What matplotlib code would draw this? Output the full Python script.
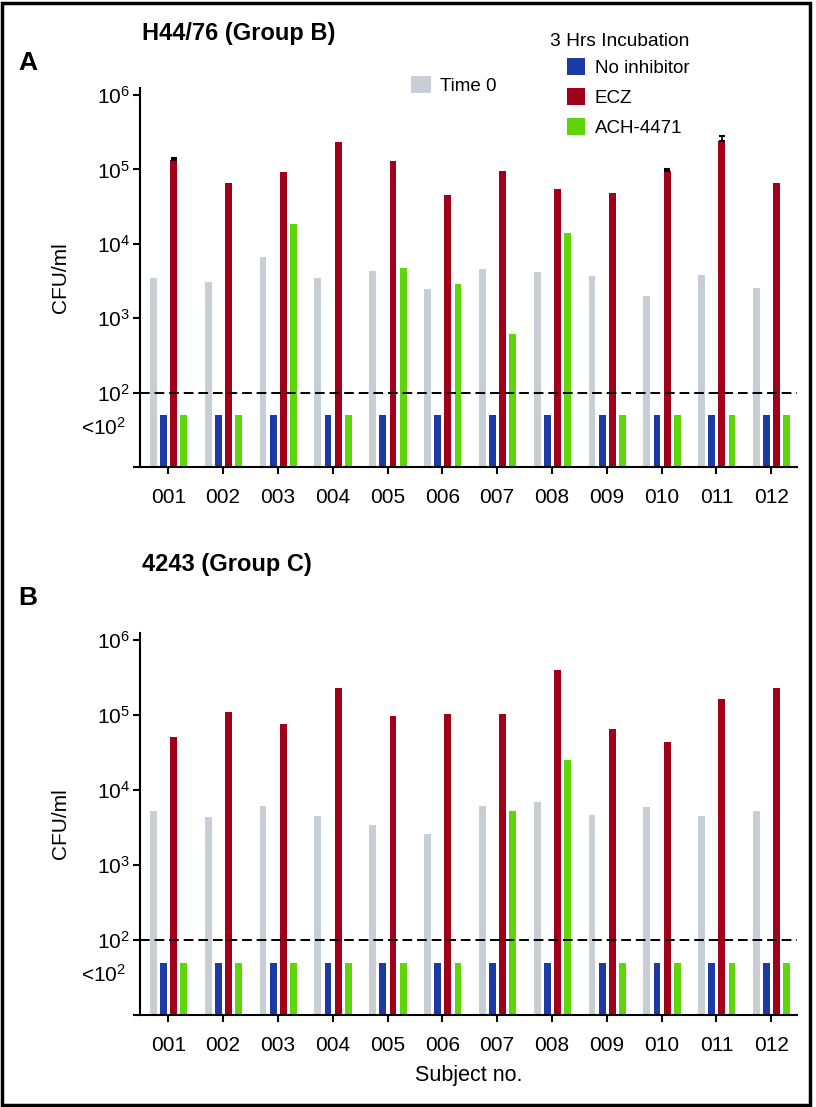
"""Bar charts of CFU/ml per subject for two strains, log scale"""
import matplotlib
matplotlib.use("Agg")
from matplotlib import pyplot as plt
from matplotlib.patches import Patch, Rectangle
from matplotlib.transforms import blended_transform_factory

plt.rcParams['font.family'] = ['Liberation Sans', 'DejaVu Sans']
plt.rcParams['mathtext.fontset'] = 'custom'
plt.rcParams['mathtext.rm'] = 'Liberation Sans'
plt.rcParams['mathtext.it'] = 'Liberation Sans'
plt.rcParams['mathtext.bf'] = 'Liberation Sans:bold'

subjects = ["001", "002", "003", "004", "005", "006",
            "007", "008", "009", "010", "011", "012"]
series_names = ["Time 0", "No inhibitor", "ECZ", "ACH-4471"]
colors = ["#c8ced6", "#1b3aa6", "#a0001a", "#5ed60a"]

# panel A: H44/76 (Group B)
time0_a = [3450, 3100, 6700, 3450, 4300, 2500, 4550, 4150, 3700, 1980, 3800, 2570]
noinh_a = [50, 50, 50, 50, 50, 50, 50, 50, 50, 50, 50, 50]
ecz_a = [135000, 65000, 92000, 233000, 128000, 45500, 96000, 54000, 48000, 96000, 240000, 65000]
ach_a = [50, 50, 18400, 50, 4700, 2850, 620, 14000, 50, 50, 50, 50]
ecz_a_err = [7000, 0, 0, 0, 0, 0, 0, 0, 0, 5000, 38000, 0]

# panel B: 4243 (Group C)
time0_b = [5250, 4370, 6050, 4540, 3420, 2620, 6120, 6850, 4590, 6000, 4460, 5300]
noinh_b = [50, 50, 50, 50, 50, 50, 50, 50, 50, 50, 50, 50]
ecz_b = [51000, 110000, 77000, 231000, 97000, 103000, 103000, 400000, 65000, 43000, 163000, 231000]
ach_b = [50, 50, 50, 50, 50, 50, 5250, 25000, 50, 50, 50, 50]
ecz_b_err = [0, 0, 0, 0, 0, 0, 0, 0, 0, 0, 0, 0]

ytick_vals = [10, 1e2, 1e3, 1e4, 1e5, 1e6]
ytick_labels = ["", "$10^{2}$", "$10^{3}$", "$10^{4}$", "$10^{5}$", "$10^{6}$"]
detect_limit = 100
below_label = "<$10^{2}$"
below_pos = 34
y_floor = 10

offsets = [-0.27, -0.085, 0.10, 0.285]
bar_w = 0.125


def draw_panel(ax, title, letter, data, err, show_xlabel):
    """Draw one panel of grouped bars"""
    xs = list(range(len(subjects)))
    for k, vals in enumerate(data):
        ax.bar([x + offsets[k] for x in xs], [v - y_floor for v in vals],
               width=bar_w, bottom=y_floor,
               color=colors[k], edgecolor='none', zorder=2)
    ex = [xs[i] + offsets[2] for i in range(len(err)) if err[i] > 0]
    ey = [data[2][i] for i in range(len(err)) if err[i] > 0]
    ee = [[0] * len(ex), [e for e in err if e > 0]]
    if ex:
        ax.errorbar(ex, ey, yerr=ee, fmt='none', ecolor='black',
                    elinewidth=1.2, capsize=2.5, capthick=1.5, zorder=3)
    ax.axhline(detect_limit, color='black', linestyle=(0, (5, 2.5)),
               linewidth=1.4, zorder=4)
    ax.set_yscale('log')
    ax.set_ylim(y_floor, 10 ** 6.1)
    ax.set_xlim(-0.515, 11.47)
    ax.set_yticks(ytick_vals)
    ax.set_yticklabels(ytick_labels)
    ax.minorticks_off()
    ax.set_xticks(xs)
    ax.set_xticklabels(subjects)
    for side in ['top', 'right']:
        ax.spines[side].set_visible(False)
    for side in ['left', 'bottom']:
        ax.spines[side].set_linewidth(1.5)
    ax.tick_params(axis='both', length=5, width=1.5, labelsize=15)
    ax.tick_params(axis='y', pad=2)
    ax.tick_params(axis='x', pad=10)
    trans = blended_transform_factory(ax.transAxes, ax.transData)
    ax.text(-0.022, below_pos, below_label, transform=trans, fontsize=15,
            ha='right', va='center')
    ax.set_ylabel("CFU/ml", fontsize=15)
    ax.yaxis.set_label_coords(-0.1065, 0.5)
    if show_xlabel:
        ax.set_xlabel("Subject no.", fontsize=15.5, va='top')
        ax.xaxis.set_label_coords(0.5, -0.13)
    fig = ax.figure
    bbox = ax.get_position()
    fig.text(142 / 816, bbox.y1 + title[1], title[0], fontsize=17,
             fontweight='bold', va='center')
    fig.text(18 / 816, bbox.y1 + letter[1], letter[0], fontsize=19,
             fontweight='bold', va='center')


def main():
    """Build the figure"""
    fig = plt.figure(figsize=(8.16, 11.07), dpi=100)
    ax_a = fig.add_axes([140 / 816, 1 - 467 / 1107, 657 / 816, 379.4 / 1107])
    ax_b = fig.add_axes([140 / 816, 1 - 1015 / 1107, 657 / 816, 382.5 / 1107])

    draw_panel(ax_a, ("H44/76 (Group B)", (87.6 - 33) / 1107),
               ("A", (87.6 - 63) / 1107),
               [time0_a, noinh_a, ecz_a, ach_a], ecz_a_err, False)
    draw_panel(ax_b, ("4243 (Group C)", (632.5 - 565) / 1107),
               ("B", (632.5 - 598) / 1107),
               [time0_b, noinh_b, ecz_b, ach_b], ecz_b_err, True)

    # legends
    h_time = [Patch(facecolor=colors[0], edgecolor='none', label=series_names[0])]
    h_inc = [Patch(facecolor=colors[k], edgecolor='none', label=series_names[k])
             for k in range(1, 4)]
    fig.legend(handles=h_time, loc='upper left',
               bbox_to_anchor=(411 / 816, 1 - 76 / 1107), frameon=False,
               borderpad=0, borderaxespad=0, handlelength=1.05,
               handleheight=1.05, handletextpad=0.5, fontsize=13.5)
    fig.legend(handles=h_inc, loc='upper left',
               bbox_to_anchor=(566.7 / 816, 1 - 58 / 1107), frameon=False,
               borderpad=0, borderaxespad=0, handlelength=1.0,
               handleheight=1.0, handletextpad=0.5, labelspacing=0.6,
               fontsize=13.5)
    fig.text(550 / 816, 1 - 41 / 1107, "3 Hrs Incubation", fontsize=13.8,
             va='center')

    # outer frame
    fig.patches.append(Rectangle((1.5 / 816, 2.5 / 1107), 808 / 816, 1102 / 1107,
                                 transform=fig.transFigure, fill=False,
                                 edgecolor='black', linewidth=2.5))
    fig.savefig("out.png", dpi=100)


if __name__ == '__main__':
    main()
